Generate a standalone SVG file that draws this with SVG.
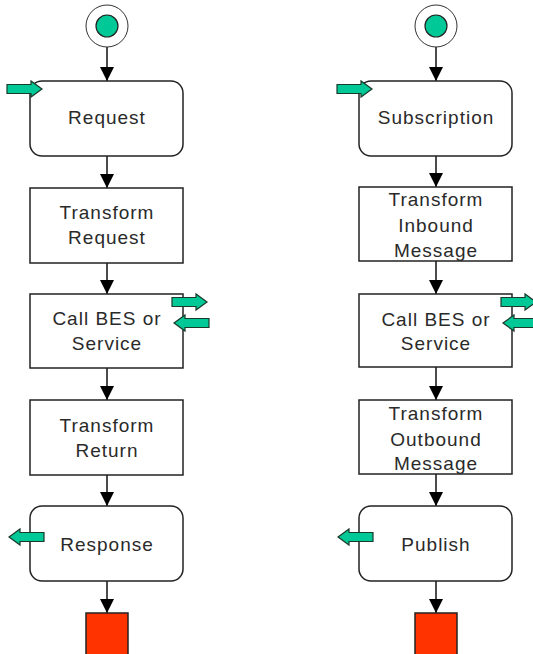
<svg xmlns="http://www.w3.org/2000/svg" width="533" height="654" viewBox="0 0 533 654">
<style>
.box{fill:#fff;stroke:#222;stroke-width:1.5}
.lbl{font-family:"Liberation Sans",Arial,sans-serif;font-size:19px;fill:#2a2a2a;text-anchor:middle;letter-spacing:1px}
.con{stroke:#111;stroke-width:1.5;fill:none;marker-end:url(#arr)}
.garr{fill:#00C896;stroke:#1a3a2a;stroke-width:1.2;stroke-linejoin:miter}
.end{fill:#FF3300;stroke:#222;stroke-width:1.5}
.outer{fill:#fff;stroke:#333;stroke-width:1}
.inner{fill:#00C896;stroke:#222;stroke-width:1.2}
</style>
<defs>
<marker id="arr" viewBox="0 0 14 14" refX="14" refY="7" markerWidth="14" markerHeight="14" orient="auto" markerUnits="userSpaceOnUse">
<path d="M0,0 L14,7 L0,14 Z" fill="#000"/>
</marker>
<path id="garrow" d="M0,-4.5 H24 V-8 L35,0 L24,8 V4.5 H0 Z"/>
</defs>
<rect width="533" height="654" fill="#fff"/>

<g id="connectors">
<line class="con" x1="107" y1="47" x2="107" y2="81"/>
<line class="con" x1="107" y1="156" x2="107" y2="188"/>
<line class="con" x1="107" y1="263" x2="107" y2="294"/>
<line class="con" x1="107" y1="368" x2="107" y2="400"/>
<line class="con" x1="107" y1="475" x2="107" y2="506"/>
<line class="con" x1="107" y1="581" x2="107" y2="613"/>
<line class="con" x1="436" y1="47" x2="436" y2="81"/>
<line class="con" x1="436" y1="156" x2="436" y2="187"/>
<line class="con" x1="436" y1="261" x2="436" y2="294"/>
<line class="con" x1="436" y1="367" x2="436" y2="400"/>
<line class="con" x1="436" y1="474" x2="436" y2="506"/>
<line class="con" x1="436" y1="581" x2="436" y2="613"/>
</g>

<g id="start-left">
<circle class="outer" cx="107" cy="26" r="21"/>
<circle class="inner" cx="107" cy="26" r="11"/>
</g>
<g id="request">
<rect class="box" x="30" y="81" width="153" height="75" rx="12"/>
<text class="lbl" x="107" y="124">Request</text>
</g>
<g id="transform-request">
<rect class="box" x="30" y="188" width="153" height="75"/>
<text class="lbl" x="107" y="219">Transform</text>
<text class="lbl" x="107" y="244">Request</text>
</g>
<g id="call-bes-left">
<rect class="box" x="30" y="294" width="153" height="74"/>
<text class="lbl" x="107" y="325">Call BES or</text>
<text class="lbl" x="107" y="350">Service</text>
</g>
<g id="transform-return">
<rect class="box" x="30" y="400" width="153" height="75"/>
<text class="lbl" x="107" y="432">Transform</text>
<text class="lbl" x="107" y="457">Return</text>
</g>
<g id="response">
<rect class="box" x="30" y="506" width="153" height="75" rx="12"/>
<text class="lbl" x="107" y="551">Response</text>
</g>
<g id="end-left">
<rect class="end" x="86" y="613" width="42" height="43"/>
</g>

<g id="start-right">
<circle class="outer" cx="436" cy="26" r="21"/>
<circle class="inner" cx="436" cy="26" r="11"/>
</g>
<g id="subscription">
<rect class="box" x="359" y="81" width="153" height="75" rx="12"/>
<text class="lbl" x="436" y="124">Subscription</text>
</g>
<g id="transform-inbound">
<rect class="box" x="359" y="187" width="153" height="74"/>
<text class="lbl" x="436" y="206">Transform</text>
<text class="lbl" x="436" y="232">Inbound</text>
<text class="lbl" x="436" y="257">Message</text>
</g>
<g id="call-bes-right">
<rect class="box" x="359" y="294" width="153" height="73"/>
<text class="lbl" x="436" y="326">Call BES or</text>
<text class="lbl" x="436" y="350">Service</text>
</g>
<g id="transform-outbound">
<rect class="box" x="359" y="400" width="153" height="74"/>
<text class="lbl" x="436" y="420">Transform</text>
<text class="lbl" x="436" y="446">Outbound</text>
<text class="lbl" x="436" y="470">Message</text>
</g>
<g id="publish">
<rect class="box" x="359" y="506" width="153" height="75" rx="12"/>
<text class="lbl" x="436" y="551">Publish</text>
</g>
<g id="end-right">
<rect class="end" x="415" y="613" width="42" height="43"/>
</g>

<g id="io-arrows">
<use href="#garrow" class="garr" transform="translate(7,89)"/>
<use href="#garrow" class="garr" transform="translate(172,302)"/>
<use href="#garrow" class="garr" transform="translate(209,323) scale(-1,1)"/>
<use href="#garrow" class="garr" transform="translate(44,537) scale(-1,1)"/>
<use href="#garrow" class="garr" transform="translate(337,89)"/>
<use href="#garrow" class="garr" transform="translate(501,302)"/>
<use href="#garrow" class="garr" transform="translate(538,323) scale(-1,1)"/>
<use href="#garrow" class="garr" transform="translate(373,537) scale(-1,1)"/>
</g>
</svg>
